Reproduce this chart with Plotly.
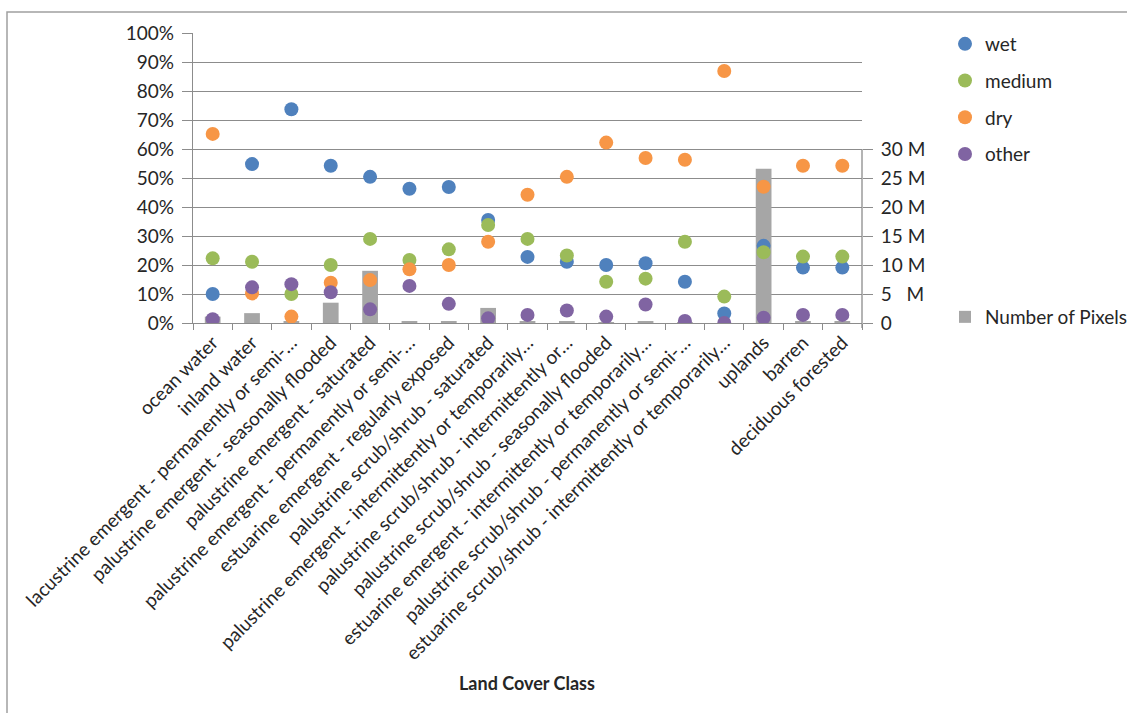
import plotly.graph_objects as go

# Land cover classes (x-axis categories)
categories = [
    "ocean water",
    "inland water",
    "lacustrine emergent - permanently or semi-…",
    "palustrine emergent - seasonally flooded",
    "palustrine emergent - saturated",
    "palustrine emergent - permanently or semi-…",
    "estuarine emergent - regularly exposed",
    "palustrine scrub/shrub - saturated",
    "palustrine emergent - intermittently or temporarily…",
    "palustrine scrub/shrub - intermittently or…",
    "palustrine scrub/shrub - seasonally flooded",
    "estuarine emergent - intermittently or temporarily…",
    "palustrine scrub/shrub - permanently or semi-…",
    "estuarine scrub/shrub - intermittently or temporarily…",
    "uplands",
    "barren",
    "deciduous forested",
]

# Share of pixels per moisture class (percent)
wet = [10.0, 54.8, 73.7, 54.2, 50.4, 46.3, 46.9, 35.5, 22.8, 21.1, 20.0, 20.6, 14.2, 3.3, 26.6, 19.1, 19.1]
medium = [22.3, 21.1, 10.0, 20.0, 29.0, 21.7, 25.4, 33.8, 29.0, 23.3, 14.2, 15.3, 28.0, 9.1, 24.4, 22.9, 22.9]
dry = [65.2, 10.2, 2.2, 13.9, 14.8, 18.5, 20.0, 28.0, 44.2, 50.4, 62.2, 56.9, 56.3, 86.9, 47.0, 54.2, 54.2]
other = [1.3, 12.3, 13.4, 10.6, 4.7, 12.8, 6.6, 1.6, 2.8, 4.3, 2.2, 6.4, 0.7, 0.0, 1.8, 2.8, 2.8]

# Pixel counts per class
pixels = [1.1e6, 1.7e6, 0.2e6, 3.5e6, 9.0e6, 0.2e6, 0.2e6, 2.6e6, 0.2e6, 0.3e6, 0.1e6, 0.3e6, 0.1e6, 0.0, 26.6e6, 0.2e6, 0.3e6]

# Right-axis ticks
count_tickvals = [0, 5e6, 10e6, 15e6, 20e6, 25e6, 30e6]
count_ticktext = ["0", "5\u00a0\u00a0\u00a0M", "10 M", "15 M", "20 M", "25 M", "30 M"]
pct_tickvals = list(range(0, 101, 10))
pct_ticktext = [f"{v}%" for v in pct_tickvals]

series = [
    ("wet", wet, "#4F81BD"),
    ("medium", medium, "#9BBB59"),
    ("dry", dry, "#F79646"),
    ("other", other, "#8064A2"),
]

FONT = "Lato, 'Open Sans', sans-serif"
TEXT = "#262626"
GRID = "#8C8C8C"
FS = 19

# Plot-area geometry in pixels (1127 x 713 canvas)
W, H = 1127, 713
L, R, T, B = 193, 862, 33, 323
pw, ph = R - L, B - T


def px_x(x):
    return (x - L) / pw


def px_y(y):
    return (B - y) / ph


fig = go.Figure()

# Pixel counts as bars (drawn underneath the points)
fig.add_trace(go.Bar(
    x=categories, y=pixels, name="Number of Pixels",
    marker=dict(color="#A6A6A6", line=dict(width=0)),
    yaxis="y", legend="legend2",
))

for name, vals, color in series:
    fig.add_trace(go.Scatter(
        x=categories, y=vals, name=name, mode="markers",
        marker=dict(size=14, color=color, line=dict(width=0)),
        yaxis="y2", legend="legend", legendgroup=name,
    ))

fig.update_layout(
    width=W, height=H,
    margin=dict(l=L, r=W - R, t=T, b=H - B, autoexpand=False),
    paper_bgcolor="white", plot_bgcolor="white",
    font=dict(family=FONT, size=FS, color=TEXT),
    bargap=0.6,
    showlegend=True,
    xaxis=dict(
        type="category", range=[-0.5, len(categories) - 0.5],
        tickangle=-45, tickfont=dict(size=FS, color=TEXT),
        ticks="outside", tickson="boundaries", ticklen=6, tickcolor=GRID, tickwidth=1.3,
        showline=True, linecolor=GRID, linewidth=1.3,
        showgrid=False, automargin=False,
    ),
    # pixel-count axis on the right; 30 M lines up with 60 %
    yaxis=dict(
        side="right", range=[0, 50e6], tickvals=count_tickvals, ticktext=count_ticktext,
        ticks="outside", ticklen=10, tickcolor=GRID, tickwidth=1.3,
        showgrid=False, zeroline=False, showline=False, ticklabelstandoff=4,
        tickfont=dict(size=FS, color=TEXT), automargin=False,
    ),
    # percentage axis on the left
    yaxis2=dict(
        side="left", overlaying="y", range=[0, 100], tickvals=pct_tickvals, ticktext=pct_ticktext,
        ticks="outside", ticklen=10, tickcolor=GRID, tickwidth=1.3,
        showgrid=True, gridcolor=GRID, gridwidth=1.3, zeroline=False,
        showline=True, linecolor=GRID, linewidth=1.3, ticklabelstandoff=4,
        tickfont=dict(size=FS, color=TEXT), automargin=False,
    ),
    legend=dict(
        x=px_x(945), y=px_y(25), xanchor="left", yanchor="top",
        font=dict(size=FS, color=TEXT), traceorder="grouped", tracegroupgap=9,
        itemwidth=30, bgcolor="rgba(0,0,0,0)",
    ),
    legend2=dict(
        x=px_x(945), y=px_y(298), xanchor="left", yanchor="top",
        font=dict(size=FS, color=TEXT), itemwidth=30, bgcolor="rgba(0,0,0,0)",
    ),
    annotations=[
        dict(
            text="<b>Land Cover Class</b>", x=px_x(527), y=px_y(683),
            xref="paper", yref="paper", showarrow=False,
            font=dict(size=18, color=TEXT), xanchor="center", yanchor="middle",
        ),
    ],
    shapes=[
        # right-hand count axis line, spanning only the 0-30 M range
        dict(type="line", xref="paper", yref="paper", x0=1, x1=1,
             y0=px_y(328), y1=0.6, line=dict(color=GRID, width=1.3)),
        # chart-area frame
        dict(type="rect", xref="paper", yref="paper",
             x0=px_x(7), x1=px_x(W + 20), y0=px_y(H + 20), y1=px_y(12),
             line=dict(color="#A0A0A0", width=1.5), layer="below"),
    ],
)

fig.write_html("out.html")
